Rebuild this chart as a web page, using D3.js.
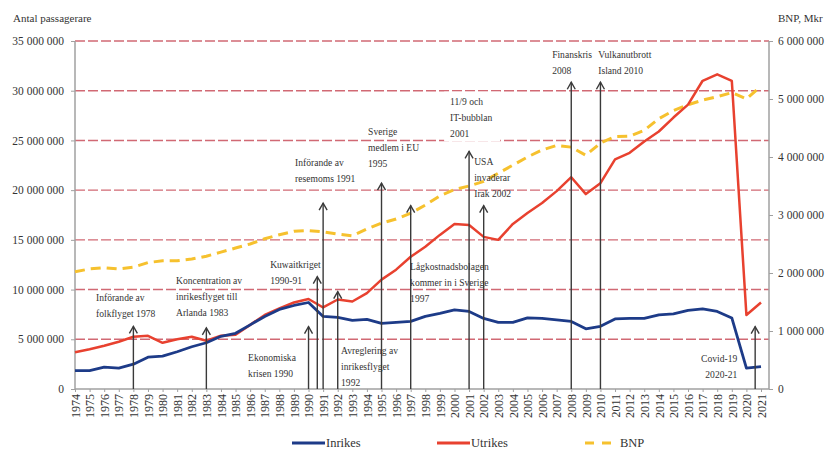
<!DOCTYPE html>
<html><head><meta charset="utf-8">
<script src="https://cdn.jsdelivr.net/npm/d3@7"></script>
<style>
html,body{margin:0;padding:0;background:#fff;}
svg{display:block;}
svg text{font-family:"Liberation Serif","Times New Roman",Tinos,"DejaVu Serif","Noto Serif",serif !important;}
</style></head>
<body>
<svg id="c" width="830" height="452"></svg>
<script>
// ---- data ----
const years = d3.range(1974, 2022);
const inrikes = [1.85,1.85,2.2,2.1,2.5,3.2,3.3,3.75,4.25,4.65,5.3,5.6,6.45,7.3,8.0,8.4,8.7,7.3,7.2,6.9,7.0,6.6,6.7,6.8,7.3,7.6,7.95,7.8,7.1,6.7,6.7,7.15,7.1,6.95,6.8,6.05,6.3,7.05,7.1,7.1,7.45,7.55,7.9,8.05,7.8,7.15,2.1,2.25].map(v=>v*1e6);
const utrikes = [3.7,4.0,4.35,4.75,5.25,5.35,4.65,5.0,5.25,4.85,5.35,5.45,6.45,7.45,8.1,8.7,9.05,8.2,9.0,8.8,9.65,11.0,12.0,13.3,14.3,15.5,16.6,16.5,15.3,15.0,16.6,17.7,18.7,19.9,21.3,19.6,20.7,23.1,23.75,24.9,25.9,27.3,28.6,31.0,31.65,31.0,7.45,8.7].map(v=>v*1e6);
const bnp = [2.02,2.07,2.09,2.07,2.10,2.18,2.21,2.21,2.24,2.29,2.36,2.43,2.50,2.59,2.66,2.72,2.73,2.71,2.67,2.64,2.76,2.86,2.93,3.03,3.17,3.33,3.44,3.50,3.58,3.72,3.86,4.0,4.12,4.2,4.17,4.03,4.24,4.35,4.36,4.46,4.66,4.80,4.90,4.98,5.04,5.11,5.0,5.22].map(v=>v*1e6);
const leftTicks = [0,5e6,10e6,15e6,20e6,25e6,30e6,35e6];
const rightTicks = [0,1e6,2e6,3e6,4e6,5e6,6e6];
const seriesNames = ["Inrikes","Utrikes","BNP"];
const leftTitle = "Antal passagerare";
const rightTitle = "BNP, Mkr";
// annotations: arrow year, arrow top (passengers), label anchor (year, passengers), lines
const annYear  = [1978,1983,1990,1990.6,1991,1992,1995,1997,2001,2002,2008,2010,2020.6];
const annTop   = [6.3,6.15,6.28,11.3,18.7,9.8,20.7,18.45,23.9,18.45,30.85,30.85,6.28].map(v=>v*1e6);
const annTextYear = [1975.44,1980.92,1985.86,1987.37,1989.08,1992.23,1994.08,1996.96,1999.7,2001.35,2006.69,2009.85,2019.37];
const annTextVal  = [9.27,10.92,3.23,12.55,22.8,3.93,25.93,12.4,28.93,22.9,33.66,33.66,3.12].map(v=>v*1e6);
const annLines = [
  ["Införande av","folkflyget 1978"],
  ["Koncentration av","inrikesflyget till","Arlanda 1983"],
  ["Ekonomiska","krisen 1990"],
  ["Kuwaitkriget","1990-91"],
  ["Införande av","resemoms 1991"],
  ["Avreglering av","inrikesflyget","1992"],
  ["Sverige","medlem i EU","1995"],
  ["Lågkostnadsbolagen","kommer in i Sverige","1997"],
  ["11/9 och","IT-bubblan","2001"],
  ["USA","invaderar","Irak 2002"],
  ["Finanskris","2008"],
  ["Vulkanutbrott","Island 2010"],
  ["Covid-19","2020-21"]
];
const annAnchor = ["start","start","start","start","start","start","start","start","start","start","start","start","end"];
const annBoxed  = [false,false,false,false,false,false,false,false,true,false,false,false,false];

// ---- layout ----
const X0=75, X1=761, AXR=769, YT=41, YB=389;
const svg = d3.select("#c");
const x = d3.scaleLinear().domain([1974,2021]).range([X0,X1]);
const yL = d3.scaleLinear().domain([0,35e6]).range([YB,YT]);
const yR = d3.scaleLinear().domain([0,6e6]).range([YB,YT]);
const fmt = d => d===0 ? "0" : d3.format(",")(d).replace(/,/g," ");

// gridlines
svg.append("g").selectAll("line").data(leftTicks.filter(d=>d>0)).join("line")
  .attr("x1",X0).attr("x2",AXR).attr("y1",d=>yL(d)).attr("y2",d=>yL(d))
  .attr("stroke","#c9505c").attr("stroke-width",1.4).attr("stroke-dasharray","10,3").attr("opacity",0.85);

// axes
const axL = svg.append("g").attr("transform",`translate(${X0},0)`)
  .call(d3.axisLeft(yL).tickValues(leftTicks).tickFormat(fmt).tickSize(4).tickPadding(7));
const axR = svg.append("g").attr("transform",`translate(${AXR},0)`)
  .call(d3.axisRight(yR).tickValues(rightTicks).tickFormat(fmt).tickSize(4).tickPadding(5));
const axB = svg.append("g").attr("transform",`translate(0,${YB})`)
  .call(d3.axisBottom(x).tickValues(years).tickFormat(d=>String(d)).tickSize(3));
axB.select(".domain").attr("d",`M${X0},0H${AXR}`);
axL.select(".domain").attr("d",`M0,${YB}V${YT}`);
axR.select(".domain").attr("d",`M0,${YB}V${YT}`);
[axL,axR,axB].forEach(a=>{
  a.attr("font-family",null);
  a.select(".domain").attr("stroke","#a0a0a0").attr("stroke-width",1.5);
  a.selectAll(".tick line").attr("stroke","#a0a0a0");
  a.selectAll("text").attr("fill","#333").attr("font-size",11.5);
});
axB.selectAll("text").attr("transform","rotate(-90)").attr("x",-5).attr("y",0)
  .attr("dy","0.35em").attr("text-anchor","end").attr("font-size",12);

// axis titles
svg.append("text").attr("x",13).attr("y",22).attr("font-size",11).attr("fill","#333").text(leftTitle);
svg.append("text").attr("x",778).attr("y",22).attr("font-size",11).attr("fill","#333").text(rightTitle);

// lines
const lineL = d3.line().x((d,i)=>x(years[i])).y(d=>yL(d));
const lineR = d3.line().x((d,i)=>x(years[i])).y(d=>yR(d));
svg.append("path").datum(bnp).attr("d",lineR).attr("fill","none").attr("stroke","#f6c12e").attr("stroke-width",3).attr("stroke-dasharray","10,6");
svg.append("path").datum(utrikes).attr("d",lineL).attr("fill","none").attr("stroke","#e8412f").attr("stroke-width",2.5).attr("stroke-linejoin","round");
svg.append("path").datum(inrikes).attr("d",lineL).attr("fill","none").attr("stroke","#1d3b88").attr("stroke-width",2.8).attr("stroke-linejoin","round");

// annotations
const ann = svg.append("g");
annYear.forEach((yr,i)=>{
  const ax = x(yr), top = yL(annTop[i]);
  ann.append("line").attr("x1",ax).attr("x2",ax).attr("y1",top).attr("y2",YB)
    .attr("stroke","#3a3a3a").attr("stroke-width",1.4);
  ann.append("path").attr("d",`M${ax-4},${top+7}L${ax},${top}L${ax+4},${top+7}`)
    .attr("fill","none").attr("stroke","#3a3a3a").attr("stroke-width",1.4);
});
annLines.forEach((lines,i)=>{
  const tx = x(annTextYear[i]), ty = yL(annTextVal[i]);
  const g = ann.append("g").attr("transform",`translate(${tx},${ty})`);
  const t = g.append("text").attr("transform","scale(0.87,1)").attr("font-size",11)
    .attr("fill","#333").attr("text-anchor",annAnchor[i]);
  lines.forEach((s,k)=>t.append("tspan").attr("x",0).attr("y",k*16).attr("dy","0.35em").text(s));
  if(annBoxed[i]){
    const bb = t.node().getBBox();
    g.insert("rect","text").attr("x",bb.x*0.87-6).attr("y",bb.y-4).attr("width",bb.width*0.87+14).attr("height",bb.height+6).attr("fill","#fff");
  }
});

// legend
const legColors = ["#1d3b88","#e8412f","#f6c12e"];
const legX = [292,437,585];
const leg = svg.append("g");
seriesNames.forEach((n,i)=>{
  const g = leg.append("g").attr("transform",`translate(${legX[i]},443)`);
  g.append("line").attr("x1",0).attr("x2",i===2?27:33).attr("y1",0).attr("y2",0)
    .attr("stroke",legColors[i]).attr("stroke-width",i===2?3:2.8)
    .attr("stroke-dasharray",i===2?"9,8":null);
  g.append("text").attr("x",i===2?35:34).attr("y",0).attr("dy","0.35em").attr("font-size",12.5)
    .attr("fill","#333").text(n);
});
</script>
</body></html>
